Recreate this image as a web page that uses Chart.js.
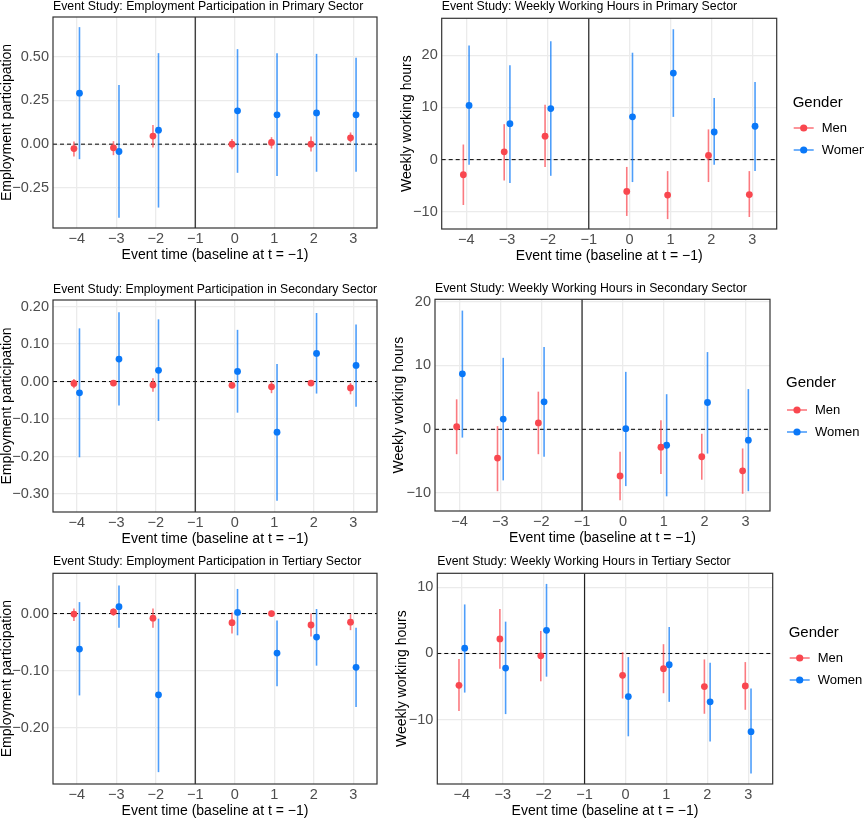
<!DOCTYPE html>
<html lang="en">
<head>
<meta charset="UTF-8">
<title>Event Study: Employment Participation and Weekly Working Hours by Sector</title>
<script src="https://cdn.jsdelivr.net/npm/chart.js"></script>
<style>
    html, body {
        margin: 0;
        padding: 0;
        background: #ffffff;
    }
    body {
        position: relative;
        width: 864px;
        height: 819px;
        overflow: hidden;
    }
    canvas {
        position: absolute;
    }
</style>
</head>
<body>
<canvas id="empPrimary"></canvas>
<canvas id="hoursPrimary"></canvas>
<canvas id="empSecondary"></canvas>
<canvas id="hoursSecondary"></canvas>
<canvas id="empTertiary"></canvas>
<canvas id="hoursTertiary"></canvas>

<script>
// event times (t = -1 is the omitted baseline period)
const eventTimes = [-4, -3, -2, 0, 1, 2, 3];
const xTicks = [-4, -3, -2, -1, 0, 1, 2, 3];
const baselineTime = -1;
const genders = ['Men', 'Women'];

// Employment participation - primary sector
const empPrimaryMen     = [-0.025, -0.021, 0.046, 0.000, 0.010, 0.000, 0.036];
const empPrimaryMenLo   = [-0.070, -0.063, -0.019, -0.029, -0.025, -0.042, 0.010];
const empPrimaryMenHi   = [0.015, 0.017, 0.109, 0.029, 0.040, 0.044, 0.067];
const empPrimaryWomen   = [0.292, -0.042, 0.080, 0.191, 0.168, 0.179, 0.168];
const empPrimaryWomenLo = [-0.086, -0.422, -0.363, -0.164, -0.183, -0.158, -0.158];
const empPrimaryWomenHi = [0.670, 0.338, 0.521, 0.544, 0.521, 0.517, 0.494];
const empPrimaryTicks   = [-0.25, 0, 0.25, 0.5];

// Weekly working hours - primary sector
const hoursPrimaryMen     = [-2.9, 1.5, 4.5, -6.1, -6.8, 0.8, -6.7];
const hoursPrimaryMenLo   = [-8.7, -4.0, -1.4, -10.8, -11.4, -4.3, -11.0];
const hoursPrimaryMenHi   = [2.9, 6.8, 10.5, -1.4, -2.2, 5.8, -2.2];
const hoursPrimaryWomen   = [10.4, 6.9, 9.8, 8.2, 16.6, 5.3, 6.4];
const hoursPrimaryWomenLo = [-1.0, -4.5, -3.1, -4.3, 8.2, -1.0, -2.2];
const hoursPrimaryWomenHi = [21.9, 18.1, 22.7, 20.5, 25.0, 11.8, 14.9];
const hoursPrimaryTicks   = [-10, 0, 10, 20];

// Employment participation - secondary sector
const empSecondaryMen     = [-0.005, -0.004, -0.009, -0.010, -0.014, -0.004, -0.017];
const empSecondaryMenLo   = [-0.018, -0.011, -0.027, -0.018, -0.031, -0.010, -0.034];
const empSecondaryMenHi   = [0.007, 0.002, 0.009, -0.002, 0.000, 0.002, -0.004];
const empSecondaryWomen   = [-0.030, 0.060, 0.030, 0.027, -0.135, 0.075, 0.043];
const empSecondaryWomenLo = [-0.202, -0.064, -0.105, -0.083, -0.318, -0.032, -0.067];
const empSecondaryWomenHi = [0.142, 0.185, 0.166, 0.138, 0.047, 0.183, 0.152];
const empSecondaryTicks   = [-0.3, -0.2, -0.1, 0, 0.1, 0.2];

// Weekly working hours - secondary sector
const hoursSecondaryMen     = [0.4, -4.5, 1.0, -7.3, -2.8, -4.3, -6.5];
const hoursSecondaryMenLo   = [-3.9, -9.7, -3.9, -11.1, -7.0, -7.9, -10.1];
const hoursSecondaryMenHi   = [4.7, 0.5, 5.9, -3.5, 1.4, -0.7, -3.0];
const hoursSecondaryWomen   = [8.7, 1.6, 4.3, 0.1, -2.5, 4.2, -1.7];
const hoursSecondaryWomenLo = [-1.3, -8.0, -4.3, -8.9, -10.5, -3.8, -9.7];
const hoursSecondaryWomenHi = [18.6, 11.2, 12.9, 9.0, 5.5, 12.1, 6.3];
const hoursSecondaryTicks   = [-10, 0, 10, 20];

// Employment participation - tertiary sector
const empTertiaryMen     = [-0.001, 0.003, -0.008, -0.016, 0.000, -0.020, -0.015];
const empTertiaryMenLo   = [-0.013, -0.004, -0.025, -0.035, -0.005, -0.040, -0.029];
const empTertiaryMenHi   = [0.009, 0.009, 0.009, 0.002, 0.005, 0.000, -0.001];
const empTertiaryWomen   = [-0.062, 0.012, -0.142, 0.002, -0.069, -0.041, -0.094];
const empTertiaryWomenLo = [-0.143, -0.025, -0.277, -0.038, -0.127, -0.091, -0.163];
const empTertiaryWomenHi = [0.020, 0.049, -0.009, 0.043, -0.012, 0.008, -0.025];
const empTertiaryTicks   = [-0.2, -0.1, 0];

// Weekly working hours - tertiary sector
const hoursTertiaryMen     = [-4.8, 2.2, -0.35, -3.3, -2.3, -5.0, -4.9];
const hoursTertiaryMenLo   = [-8.7, -2.3, -4.2, -6.8, -6.0, -9.1, -8.5];
const hoursTertiaryMenHi   = [-0.85, 6.7, 3.4, 0.2, 1.4, -0.9, -1.3];
const hoursTertiaryWomen   = [0.8, -2.2, 3.5, -6.5, -1.7, -7.3, -11.8];
const hoursTertiaryWomenLo = [-5.9, -9.15, -3.5, -12.5, -7.3, -13.3, -18.1];
const hoursTertiaryWomenHi = [7.4, 4.8, 10.5, -0.55, 4.0, -1.4, -5.3];
const hoursTertiaryTicks   = [-10, 0, 10];

// styling
const FONT = '"Liberation Sans", Arial, Helvetica, sans-serif';
const menColor = '#F9474F';
const womenColor = '#0A78F8';
const menBar = 'rgba(249, 71, 79, 0.72)';
const womenBar = 'rgba(10, 120, 248, 0.72)';
const dodge = 0.07;
const xTitle = 'Event time (baseline at t = \u22121)';

Chart.defaults.font.family = FONT;

function fmt(v, digits) {
    return (v < 0 ? '\u2212' : '') + Math.abs(v).toFixed(digits);
}

// reference lines, error bars, panel border and the legend
const panelDecor = {
    id: 'panelDecor',
    beforeDatasetsDraw(chart) {
        const { ctx, chartArea: a, scales: { x, y } } = chart;
        ctx.save();
        // dashed zero line
        const y0 = y.getPixelForValue(0);
        ctx.strokeStyle = '#000';
        ctx.lineWidth = 1;
        ctx.setLineDash([4, 3]);
        ctx.beginPath();
        ctx.moveTo(a.left, y0);
        ctx.lineTo(a.right, y0);
        ctx.stroke();
        ctx.setLineDash([]);
        // baseline marker
        const xb = x.getPixelForValue(baselineTime);
        ctx.strokeStyle = '#222';
        ctx.lineWidth = 1.2;
        ctx.beginPath();
        ctx.moveTo(xb, a.top);
        ctx.lineTo(xb, a.bottom);
        ctx.stroke();
        // confidence intervals
        chart.data.datasets.forEach(ds => {
            ctx.strokeStyle = ds.barColor;
            ctx.lineWidth = 1.6;
            ds.data.forEach((pt, i) => {
                const px = x.getPixelForValue(pt.x);
                ctx.beginPath();
                ctx.moveTo(px, y.getPixelForValue(ds.lo[i]));
                ctx.lineTo(px, y.getPixelForValue(ds.hi[i]));
                ctx.stroke();
            });
        });
        ctx.restore();
    },
    afterDatasetsDraw(chart) {
        const { ctx, chartArea: a } = chart;
        ctx.save();
        ctx.strokeStyle = '#333';
        ctx.lineWidth = 1.2;
        ctx.strokeRect(a.left, a.top, a.right - a.left, a.bottom - a.top);
        ctx.restore();
    },
    afterDraw(chart, args, opts) {
        if (!opts || !opts.show) return;
        const { ctx, chartArea: a } = chart;
        const x0 = a.right + 16;
        ctx.save();
        ctx.textBaseline = 'middle';
        ctx.textAlign = 'left';
        ctx.fillStyle = '#000';
        ctx.font = '15px ' + FONT;
        ctx.fillText('Gender', x0, opts.titleY);
        chart.data.datasets.forEach((ds, i) => {
            const yy = opts.itemY[i];
            ctx.strokeStyle = ds.barColor;
            ctx.lineWidth = 1.6;
            ctx.beginPath();
            ctx.moveTo(x0 + 1, yy);
            ctx.lineTo(x0 + 21, yy);
            ctx.stroke();
            ctx.fillStyle = ds.backgroundColor;
            ctx.beginPath();
            ctx.arc(x0 + 11, yy, 3.6, 0, Math.PI * 2);
            ctx.fill();
            ctx.fillStyle = '#000';
            ctx.font = '13px ' + FONT;
            ctx.fillText(ds.label, x0 + 29, yy);
        });
        ctx.restore();
    }
};

const panels = [
    { id: 'empPrimary', title: 'Event Study: Employment Participation in Primary Sector',
      yTitle: 'Employment participation', digits: 2, yMin: -0.48, yMax: 0.728, yTicks: empPrimaryTicks,
      men: [empPrimaryMen, empPrimaryMenLo, empPrimaryMenHi],
      women: [empPrimaryWomen, empPrimaryWomenLo, empPrimaryWomenHi],
      left: 0, right: 385, plot: { l: 53, r: 377, t: 17, b: 228 }, titleY: 6.5, yTitleX: 7 },
    { id: 'hoursPrimary', title: 'Event Study: Weekly Working Hours in Primary Sector',
      yTitle: 'Weekly working hours', digits: 0, yMin: -13.3, yMax: 27.1, yTicks: hoursPrimaryTicks,
      men: [hoursPrimaryMen, hoursPrimaryMenLo, hoursPrimaryMenHi],
      women: [hoursPrimaryWomen, hoursPrimaryWomenLo, hoursPrimaryWomenHi],
      left: 388, right: 864, plot: { l: 441.7, r: 776.7, t: 18.3, b: 229.3 }, titleY: 6.5, yTitleX: 407,
      legend: { titleY: 103, itemY: [128, 150] } },
    { id: 'empSecondary', title: 'Event Study: Employment Participation in Secondary Sector',
      yTitle: 'Employment participation', digits: 2, yMin: -0.348, yMax: 0.2176, yTicks: empSecondaryTicks,
      men: [empSecondaryMen, empSecondaryMenLo, empSecondaryMenHi],
      women: [empSecondaryWomen, empSecondaryWomenLo, empSecondaryWomenHi],
      left: 0, right: 385, plot: { l: 53, r: 377, t: 300, b: 512 }, titleY: 289, yTitleX: 7 },
    { id: 'hoursSecondary', title: 'Event Study: Weekly Working Hours in Secondary Sector',
      yTitle: 'Weekly working hours', digits: 0, yMin: -12.8, yMax: 20.37, yTicks: hoursSecondaryTicks,
      men: [hoursSecondaryMen, hoursSecondaryMenLo, hoursSecondaryMenHi],
      women: [hoursSecondaryWomen, hoursSecondaryWomenLo, hoursSecondaryWomenHi],
      left: 388, right: 864, plot: { l: 435, r: 770, t: 299.3, b: 511 }, titleY: 288.5, yTitleX: 399.5,
      legend: { titleY: 383, itemY: [410, 432] } },
    { id: 'empTertiary', title: 'Event Study: Employment Participation in Tertiary Sector',
      yTitle: 'Employment participation', digits: 2, yMin: -0.2977, yMax: 0.0703, yTicks: empTertiaryTicks,
      men: [empTertiaryMen, empTertiaryMenLo, empTertiaryMenHi],
      women: [empTertiaryWomen, empTertiaryWomenLo, empTertiaryWomenHi],
      left: 0, right: 385, plot: { l: 53, r: 377, t: 573.3, b: 784.3 }, titleY: 561, yTitleX: 7 },
    { id: 'hoursTertiary', title: 'Event Study: Weekly Working Hours in Tertiary Sector',
      yTitle: 'Weekly working hours', digits: 0, yMin: -19.7, yMax: 12.1, yTicks: hoursTertiaryTicks,
      men: [hoursTertiaryMen, hoursTertiaryMenLo, hoursTertiaryMenHi],
      women: [hoursTertiaryWomen, hoursTertiaryWomenLo, hoursTertiaryWomenHi],
      left: 388, right: 864, plot: { l: 437.3, r: 772.7, t: 573.3, b: 784.3 }, titleY: 561, yTitleX: 402,
      legend: { titleY: 633, itemY: [658, 680] } }
];

function buildPanel(p) {
    const canvas = document.getElementById(p.id);
    const top = Math.round(p.titleY - 7.38);
    const width = p.right - p.left;
    const height = Math.round(p.plot.b + 40 - top);
    canvas.width = width;
    canvas.height = height;
    canvas.style.left = p.left + 'px';
    canvas.style.top = top + 'px';
    canvas.style.width = width + 'px';
    canvas.style.height = height + 'px';

    const series = [p.men, p.women];
    const datasets = genders.map((g, k) => ({
        label: g,
        data: eventTimes.map((t, i) => ({ x: t + (k === 0 ? -dodge : dodge), y: series[k][0][i] })),
        lo: series[k][1],
        hi: series[k][2],
        backgroundColor: k === 0 ? menColor : womenColor,
        barColor: k === 0 ? menBar : womenBar,
        borderWidth: 0,
        pointRadius: 3.4
    }));

    new Chart(canvas.getContext('2d'), {
        type: 'scatter',
        data: { datasets: datasets },
        options: {
            responsive: false,
            animation: false,
            events: [],
            layout: { padding: { left: 0, right: p.right - p.plot.r, top: 0, bottom: 0 } },
            plugins: {
                legend: { display: false },
                tooltip: { enabled: false },
                title: {
                    display: true,
                    text: p.title,
                    align: 'start',
                    fullSize: false,
                    color: '#000',
                    font: { size: 12.3, weight: 'normal', lineHeight: 1.2 },
                    padding: { top: 0, bottom: p.plot.t - top - 14.76 }
                },
                panelDecor: p.legend
                    ? { show: true, titleY: p.legend.titleY - top, itemY: p.legend.itemY.map(v => v - top) }
                    : { show: false }
            },
            scales: {
                x: {
                    type: 'linear',
                    min: -4.6,
                    max: 3.6,
                    afterBuildTicks: s => { s.ticks = xTicks.map(v => ({ value: v })); },
                    afterFit: s => { s.height = 40; },
                    border: { display: false },
                    grid: { color: '#EBEBEB', lineWidth: 1.3, drawTicks: false },
                    ticks: {
                        autoSkip: false,
                        maxRotation: 0,
                        padding: 2,
                        color: '#4D4D4D',
                        font: { size: 14.5 },
                        callback: v => fmt(v, 0)
                    },
                    title: {
                        display: true,
                        text: xTitle,
                        color: '#000',
                        font: { size: 14, lineHeight: 1 },
                        padding: { top: 0, bottom: 6 }
                    }
                },
                y: {
                    type: 'linear',
                    min: p.yMin,
                    max: p.yMax,
                    afterBuildTicks: s => { s.ticks = p.yTicks.map(v => ({ value: v })); },
                    afterFit: s => { s.width = p.plot.l - p.left; },
                    border: { display: false },
                    grid: { color: '#EBEBEB', lineWidth: 1.3, drawTicks: false },
                    ticks: {
                        padding: 4,
                        color: '#4D4D4D',
                        font: { size: 14.5 },
                        callback: v => fmt(v, p.digits)
                    },
                    title: {
                        display: true,
                        text: p.yTitle,
                        color: '#000',
                        font: { size: 14, lineHeight: 1 },
                        padding: { top: Math.max(0, p.yTitleX - p.left - 7), bottom: 0 }
                    }
                }
            }
        },
        plugins: [panelDecor]
    });
}

panels.forEach(buildPanel);
</script>
</body>
</html>
